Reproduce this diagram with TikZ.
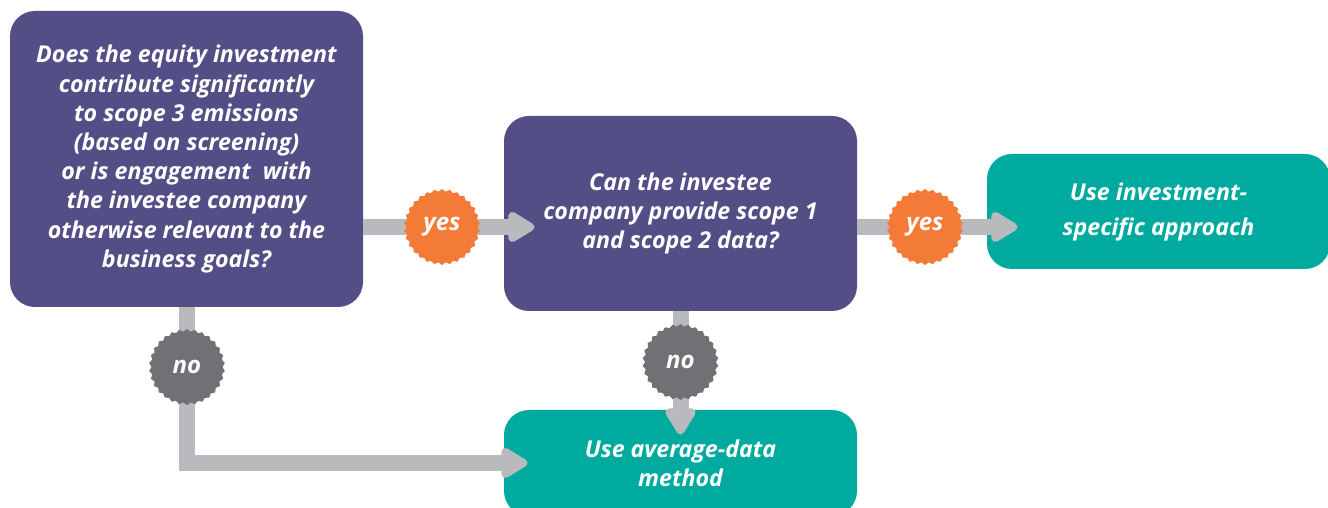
\documentclass[tikz,border=0pt]{standalone}
\usepackage{fontspec}
\setmainfont{Open Sans}
\usetikzlibrary{shapes.geometric,arrows.meta}
\definecolor{qpurple}{HTML}{534F86}
\definecolor{ateal}{HTML}{00AA9F}
\definecolor{flowgray}{HTML}{B9BABD}
\definecolor{yesorange}{HTML}{F47B37}
\definecolor{nogray}{HTML}{717175}
\tikzset{
    boxtext/.style={text=white, align=center, inner sep=0pt, font=\fontsize{11.6}{14.6}\selectfont\bfseries\itshape},
    question/.style={boxtext, rectangle, rounded corners=12.5pt, fill=qpurple},
    answer/.style={boxtext, rectangle, rounded corners=12.5pt, fill=ateal},
    flow/.style={line width=8pt, draw=flowgray, -{Triangle[length=15pt,width=17pt,round]}},
    badge/.style={star, star points=30, star point ratio=1.07, minimum size=38pt, inner sep=0pt, text=white, font=\fontsize{12}{14}\selectfont\bfseries\itshape}
}
\begin{document}
\begin{tikzpicture}[x=0.5pt, y=0.5pt]
        \useasboundingbox (0,0) rectangle (1328,508);
        \clip (0,0) rectangle (1328,508);
        %Boxes
        \node[question, minimum width=176.5pt, minimum height=148pt] (q1) at (186.5,349) {Does the equity investment\\contribute significantly\\to scope 3 emissions\\(based on screening)\\or is engagement~ with\\the investee company\\otherwise relevant to the\\business goals?};
        \node[question, minimum width=176.5pt, minimum height=97.5pt] (q2) at (680.5,294.5) {Can the investee\\company provide scope 1\\and scope 2 data?};
        \node[answer, minimum width=171.5pt, minimum height=57.5pt, font=\fontsize{11.6}{17.5}\selectfont\bfseries\itshape] (a1) at (1158.5,296.5) {Use investment-\\specific approach};
        \node[answer, minimum width=176.5pt, minimum height=53pt] (a2) at (680.5,45) {Use average-data\\method};
        %Badges
        \coordinate (yes1) at (442,281);
        \coordinate (yes2) at (925,281);
        \coordinate (no1) at (187,141);
        \coordinate (no2) at (680.5,146);
        %Arrows
        \draw[flow] (q1.east |- yes1) -- ([xshift=15.5pt]q2.west |- yes1);
        \draw[flow] (q2.east |- yes2) -- ([xshift=15.5pt]a1.west |- yes2);
        \draw[flow] (q1.south) -- (q1.south |- a2.west) -- ([xshift=12pt]a2.west);
        \draw[flow] (q2.south) -- ([yshift=-12.5pt]a2.north);
        \node[badge, fill=yesorange] (yesA) at (yes1) {yes};
        \node[badge, fill=yesorange] (yesB) at (yes2) {yes};
        \node[badge, fill=nogray] (noA) at (no1) {no};
        \node[badge, fill=nogray] (noB) at (no2) {no};
\end{tikzpicture}
\end{document}
